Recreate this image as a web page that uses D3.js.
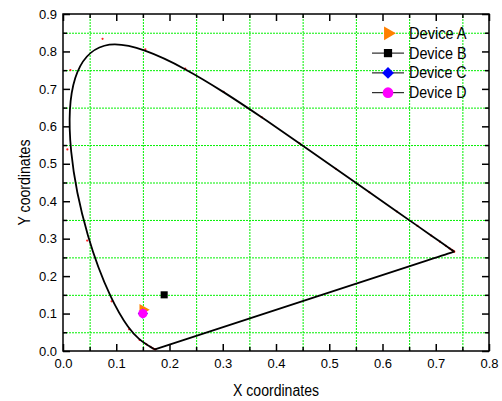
<!DOCTYPE html>
<html>
<head>
<meta charset="utf-8">
<script src="https://cdn.jsdelivr.net/npm/d3@7"></script>
<style>
  html, body { margin: 0; padding: 0; background: #fff; }
  svg { display: block; font-family: Arial, "Liberation Sans", sans-serif; }
</style>
</head>
<body>
<div id="chart"></div>
<script>
// CIE 1931 spectral locus, 380-700 nm every 10 nm
const wavelengths = [380, 390, 400, 410, 420, 430, 440, 450, 460, 470, 480, 490, 500, 510, 520, 530, 540,
  550, 560, 570, 580, 590, 600, 610, 620, 630, 640, 650, 660, 670, 680, 690, 700];
const locusX = [0.1741, 0.1738, 0.1733, 0.1726, 0.1714, 0.1689, 0.1644, 0.1566, 0.1440, 0.1241, 0.0913,
  0.0454, 0.0082, 0.0139, 0.0743, 0.1547, 0.2296, 0.3016, 0.3731, 0.4441, 0.5125, 0.5752, 0.6270,
  0.6658, 0.6915, 0.7079, 0.7190, 0.7260, 0.7300, 0.7320, 0.7334, 0.7344, 0.7347];
const locusY = [0.0050, 0.0049, 0.0048, 0.0048, 0.0051, 0.0069, 0.0109, 0.0177, 0.0297, 0.0578, 0.1327,
  0.2950, 0.5384, 0.7502, 0.8338, 0.8059, 0.7543, 0.6923, 0.6245, 0.5547, 0.4866, 0.4242, 0.3725,
  0.3340, 0.3083, 0.2920, 0.2809, 0.2740, 0.2700, 0.2680, 0.2666, 0.2656, 0.2653];

const deviceNames = ["Device A", "Device B", "Device C", "Device D"];
const deviceX = [0.15, 0.19, 0.15, 0.15];
const deviceY = [0.11, 0.15, 0.10, 0.10];

const xMajor = [0, 0.1, 0.2, 0.3, 0.4, 0.5, 0.6, 0.7, 0.8];
const yMajor = [0, 0.1, 0.2, 0.3, 0.4, 0.5, 0.6, 0.7, 0.8, 0.9];
const xMinor = [0.05, 0.15, 0.25, 0.35, 0.45, 0.55, 0.65, 0.75];
const yMinor = [0.05, 0.15, 0.25, 0.35, 0.45, 0.55, 0.65, 0.75, 0.85];

// diamond = carré tourné de 45°
const deviceStyle = {
  "Device A": { shape: d3.symbolTriangle, color: "#ff8000", size: 60, rotate: 90, line: false },
  "Device B": { shape: d3.symbolSquare, color: "#000000", size: 50, rotate: 0, line: true },
  "Device C": { shape: d3.symbolSquare, color: "#0000ff", size: 52, rotate: 45, line: true },
  "Device D": { shape: d3.symbolCircle, color: "#ff00ff", size: 66, rotate: 0, line: true }
};

const width = 502;
const height = 401;
const margin = { top: 14, right: 13, bottom: 50, left: 63 };
const innerWidth = width - margin.left - margin.right;
const innerHeight = height - margin.top - margin.bottom;

const svg = d3.select("#chart").append("svg")
  .attr("width", width)
  .attr("height", height);

const g = svg.append("g")
  .attr("transform", `translate(${margin.left},${margin.top})`);

const x = d3.scaleLinear().domain([0, 0.8]).range([0, innerWidth]);
const y = d3.scaleLinear().domain([0, 0.9]).range([innerHeight, 0]);

// grille verte pointillée
g.append("g")
  .attr("class", "grid")
  .attr("transform", `translate(0,${innerHeight})`)
  .call(d3.axisBottom(x).tickValues(xMinor).tickSize(-innerHeight).tickFormat(""));
g.append("g")
  .attr("class", "grid")
  .call(d3.axisLeft(y).tickValues(yMinor).tickSize(-innerWidth).tickFormat(""));
g.selectAll(".grid .domain").remove();
g.selectAll(".grid text").remove();
g.selectAll(".grid line")
  .attr("stroke", "#00f000")
  .attr("stroke-width", 1)
  .attr("stroke-dasharray", "2,1");

// points du locus (rouge) puis courbe B-spline
const locus = wavelengths.map((w, i) => ({ w: w, x: locusX[i], y: locusY[i] }));

g.append("g")
  .selectAll("circle")
  .data(locus)
  .enter()
  .append("circle")
  .attr("cx", d => x(d.x))
  .attr("cy", d => y(d.y))
  .attr("r", 1.1)
  .attr("fill", "#ff2020");

const closed = locus.concat([locus[0]]);
g.append("path")
  .datum(closed)
  .attr("fill", "none")
  .attr("stroke", "black")
  .attr("stroke-width", 1.8)
  .attr("d", d3.line().x(d => x(d.x)).y(d => y(d.y)).curve(d3.curveBasis));

// points des appareils
deviceNames.forEach((name, i) => {
  const st = deviceStyle[name];
  g.append("path")
    .attr("d", d3.symbol().type(st.shape).size(st.size)())
    .attr("transform", `translate(${x(deviceX[i])},${y(deviceY[i])}) rotate(${st.rotate})`)
    .attr("fill", st.color);
});

// axes
function styleAxis(sel) {
  sel.select(".domain").remove();
  sel.selectAll("line").attr("stroke", "black").attr("stroke-width", 1.5);
}

function bareAxis(sel) {
  styleAxis(sel);
  sel.selectAll("text").remove();
}

const xAxis = g.append("g")
  .attr("transform", `translate(0,${innerHeight})`)
  .call(d3.axisBottom(x).tickValues(xMajor).tickSizeInner(-7).tickSizeOuter(0)
    .tickPadding(8).tickFormat(d3.format(".1f")));
xAxis.call(styleAxis);
xAxis.selectAll("text")
  .style("font-size", "13px")
  .attr("fill", "black");

g.append("g")
  .attr("transform", `translate(0,${innerHeight})`)
  .call(d3.axisBottom(x).tickValues(xMinor).tickSize(-4))
  .call(bareAxis);

const yAxis = g.append("g")
  .call(d3.axisLeft(y).tickValues(yMajor).tickSizeInner(-7).tickSizeOuter(0)
    .tickPadding(6).tickFormat(d3.format(".1f")));
yAxis.call(styleAxis);
yAxis.selectAll("text")
  .style("font-size", "13px")
  .attr("fill", "black");

g.append("g")
  .call(d3.axisLeft(y).tickValues(yMinor).tickSize(-4))
  .call(bareAxis);

// axes miroirs haut / droite
g.append("g")
  .call(d3.axisTop(x).tickValues(xMajor).tickSize(-7))
  .call(bareAxis);
g.append("g")
  .call(d3.axisTop(x).tickValues(xMinor).tickSize(-4))
  .call(bareAxis);
g.append("g")
  .attr("transform", `translate(${innerWidth},0)`)
  .call(d3.axisRight(y).tickValues(yMajor).tickSize(-7))
  .call(bareAxis);
g.append("g")
  .attr("transform", `translate(${innerWidth},0)`)
  .call(d3.axisRight(y).tickValues(yMinor).tickSize(-4))
  .call(bareAxis);

g.append("rect")
  .attr("x", 0)
  .attr("y", 0)
  .attr("width", innerWidth)
  .attr("height", innerHeight)
  .attr("fill", "none")
  .attr("stroke", "black")
  .attr("stroke-width", 1.5);

// titres des axes
svg.append("text")
  .attr("x", margin.left + innerWidth / 2)
  .attr("y", 396)
  .attr("text-anchor", "middle")
  .attr("textLength", 86)
  .attr("lengthAdjust", "spacingAndGlyphs")
  .style("font-size", "16px")
  .text("X coordinates");

svg.append("text")
  .attr("transform", `translate(29.5,${margin.top + innerHeight / 2}) rotate(-90)`)
  .attr("text-anchor", "middle")
  .attr("textLength", 86)
  .attr("lengthAdjust", "spacingAndGlyphs")
  .style("font-size", "16px")
  .text("Y coordinates");

// légende
const legend = svg.append("g")
  .attr("transform", "translate(388,33.3)");

deviceNames.forEach((name, i) => {
  const st = deviceStyle[name];
  const row = legend.append("g")
    .attr("transform", `translate(0,${i * 19.8})`);

  if (st.line) {
    row.append("line")
      .attr("x1", -16)
      .attr("x2", 16)
      .attr("y1", 0)
      .attr("y2", 0)
      .attr("stroke", "black")
      .attr("stroke-width", 1);
  }

  row.append("path")
    .attr("d", d3.symbol().type(st.shape).size(st.size * 1.35)())
    .attr("transform", `rotate(${st.rotate})`)
    .attr("fill", st.color);

  row.append("text")
    .attr("x", 21)
    .attr("y", 5.5)
    .attr("textLength", 57.5)
    .attr("lengthAdjust", "spacingAndGlyphs")
    .style("font-size", "16px")
    .text(name);
});
</script>
</body>
</html>
